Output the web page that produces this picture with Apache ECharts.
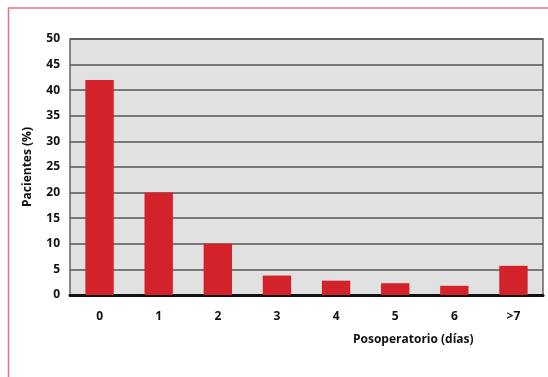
<!DOCTYPE html>
<html>
<head>
<meta charset="utf-8">
<script src="https://cdn.jsdelivr.net/npm/echarts@6/dist/echarts.min.js"></script>
<style>
html,body{margin:0;padding:0;background:#fff;}
#chart{width:548px;height:377px;}
</style>
</head>
<body>
<div id="chart"></div>
<script>
var categories = ['0', '1', '2', '3', '4', '5', '6', '>7'];
var values = [42, 20, 10, 3.8, 2.8, 2.3, 1.8, 5.7];
var yTicks = [0, 5, 10, 15, 20, 25, 30, 35, 40, 45, 50];
var yAxisTitle = 'Pacientes (%)';
var xAxisTitle = 'Posoperatorio (días)';

var font = '"Open Sans", "DejaVu Sans", sans-serif';
var chart = echarts.init(document.getElementById('chart'), null, {renderer: 'canvas'});
chart.setOption({
  animation: false,
  backgroundColor: '#ffffff',
  grid: {
    left: 70, right: 5, top: 39, bottom: 82,
    show: true,
    backgroundColor: '#e1e1e1',
    borderColor: '#666',
    borderWidth: 1.5
  },
  xAxis: {
    type: 'category',
    data: categories,
    axisLine: {show: true, lineStyle: {color: '#111', width: 3}},
    axisTick: {show: false},
    axisLabel: {color: '#111', fontFamily: font, fontWeight: 'bold', fontSize: 12, margin: 16}
  },
  yAxis: {
    type: 'value',
    min: yTicks[0],
    max: yTicks[yTicks.length - 1],
    interval: 5,
    name: yAxisTitle,
    nameLocation: 'middle',
    nameRotate: 90,
    nameGap: 36,
    nameTextStyle: {color: '#111', fontFamily: font, fontWeight: 'bold', fontSize: 12},
    axisLine: {show: false},
    axisTick: {show: false},
    axisLabel: {color: '#111', fontFamily: font, fontWeight: 'bold', fontSize: 12, margin: 10},
    splitLine: {show: true, lineStyle: {color: '#555', width: 1.5}}
  },
  series: [{
    type: 'bar',
    data: values,
    barWidth: '48%',
    itemStyle: {color: '#d4222b'}
  }],
  graphic: [
    {
      type: 'rect',
      left: 6, top: 5.5,
      shape: {width: 560, height: 370},
      style: {fill: 'none', stroke: '#ef6e80', lineWidth: 1.5},
      silent: true
    },
    {
      type: 'text',
      left: 353, top: 334,
      style: {text: xAxisTitle, fill: '#111', font: 'bold 12px ' + font}
    }
  ]
});
</script>
</body>
</html>
